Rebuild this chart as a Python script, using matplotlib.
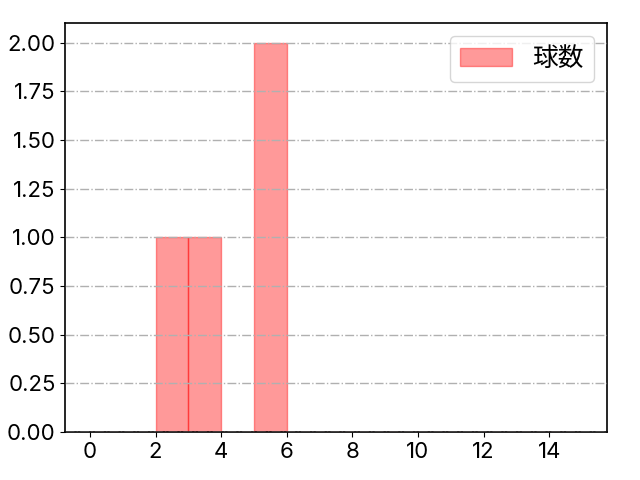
import matplotlib
matplotlib.use("Agg")
import matplotlib.pyplot as plt
import numpy as np

plt.rcParams['font.family'] = ['Noto Sans CJK JP', 'DejaVu Sans']

# pitch counts per value (histogram input)
pitch_values = [2, 3, 5, 5]
bin_edges = list(range(0, 16))
series_label = "球数"

fig, ax = plt.subplots(figsize=(6.4, 4.8), dpi=100)
fig.subplots_adjust(left=0.102, right=0.948, bottom=0.1, top=0.952)

ax.hist(pitch_values, bins=bin_edges, color="red", alpha=0.4,
        edgecolor="red", linewidth=1.0, label=series_label)

ax.set_xticks(np.arange(0, 15, 2))
ax.yaxis.set_major_formatter(matplotlib.ticker.FormatStrFormatter("%.2f"))
ax.grid(axis="y", linestyle="-.", color="#b0b0b0", linewidth=1.0)
ax.set_axisbelow(False)
ax.tick_params(labelsize=16)
for lbl in ax.get_xticklabels() + ax.get_yticklabels():
    lbl.set_family(["Inter", "DejaVu Sans"])
for s in ax.spines.values():
    s.set_linewidth(1.2)
ax.legend(loc="upper right", fontsize=18.5)

fig.savefig("out.png", dpi=100)
